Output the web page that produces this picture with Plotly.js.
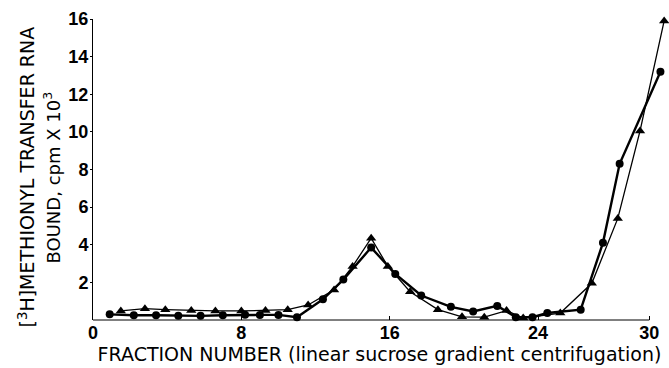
<!DOCTYPE html>
<html>
<head>
<meta charset="utf-8">
<script src="https://cdn.plot.ly/plotly-3.0.1.min.js"></script>
<style>html,body{margin:0;padding:0;background:#fff;}#chart{width:669px;height:368px;}</style>
</head>
<body>
<div id="chart"></div>
<script>
// Circles series (thick line)
const circleX = [0.9, 2.2, 3.4, 4.6, 5.8, 7.0, 8.2, 9.0, 10.0, 11.0, 12.4, 13.5, 15.0, 16.3, 17.7, 19.3, 20.5, 21.8, 22.8, 23.7, 24.5, 26.3, 27.5, 28.4, 30.6];
const circleY = [0.3, 0.25, 0.25, 0.22, 0.22, 0.25, 0.28, 0.27, 0.27, 0.15, 1.1, 2.15, 3.85, 2.45, 1.3, 0.7, 0.45, 0.75, 0.15, 0.15, 0.37, 0.55, 4.1, 8.3, 13.2];
// Triangles series (thin line)
const triX = [1.5, 2.8, 3.9, 5.3, 6.6, 8.0, 9.3, 10.5, 11.6, 13.0, 14.0, 15.0, 15.9, 17.1, 18.6, 19.9, 21.1, 22.3, 23.2, 25.2, 26.9, 28.3, 29.5, 30.8];
const triY = [0.48, 0.6, 0.55, 0.5, 0.48, 0.48, 0.5, 0.55, 0.8, 1.6, 2.85, 4.35, 2.85, 1.5, 0.55, 0.17, 0.15, 0.5, 0.1, 0.37, 1.95, 5.4, 10.05, 15.9];
// Tick labels
const xTicks = [0, 8, 16, 24, 30];
const yTicks = [2, 4, 6, 8, 10, 12, 14, 16];

const traces = [
  {x: triX, y: triY, type: 'scatter', mode: 'lines+markers', cliponaxis: false,
   line: {color: '#000', width: 1.3},
   marker: {symbol: 'triangle-up', size: 9, color: '#000'}},
  {x: circleX, y: circleY, type: 'scatter', mode: 'lines+markers', cliponaxis: false,
   line: {color: '#000', width: 2.4},
   marker: {symbol: 'circle', size: 8, color: '#000'}}
];

const layout = {
  width: 669, height: 368,
  margin: {l: 93, r: 3, t: 19, b: 48},
  paper_bgcolor: '#fff', plot_bgcolor: '#fff',
  showlegend: false,
  font: {family: 'Liberation Sans, Arial, sans-serif', color: '#000'},
  xaxis: {
    range: [0, 30.9], tickvals: xTicks, ticktext: xTicks.map(String),
    showgrid: false, zeroline: false, showline: false,
    ticks: 'inside', ticklen: 4, tickcolor: '#000',
    tickfont: {size: 18, family: 'Liberation Sans, Arial, sans-serif', weight: 'bold'},
    title: {text: 'FRACTION NUMBER (linear sucrose gradient centrifugation)',
            font: {size: 19, family: 'DejaVu Sans, sans-serif'}, standoff: 0}
  },
  yaxis: {
    range: [0, 16], tickvals: yTicks, ticktext: yTicks.map(String),
    showgrid: false, zeroline: false, showline: true, linecolor: '#000', linewidth: 1,
    ticks: 'outside', ticklen: 2, tickcolor: '#000', ticklabelstandoff: -2,
    tickfont: {size: 18, family: 'Liberation Sans, Arial, sans-serif', weight: 'bold'}
  },
  shapes: [
    {type: 'line', xref: 'x', yref: 'paper', x0: 0, x1: xTicks[xTicks.length - 1], y0: 0, y1: 0,
     line: {color: '#000', width: 1}}
  ],
  annotations: [
    {text: '[<sup>3</sup>H]METHIONYL TRANSFER RNA', xref: 'paper', yref: 'paper',
     x: 0, y: 0.5, xanchor: 'center', yanchor: 'middle', xshift: -67, yshift: -8,
     textangle: -90, showarrow: false,
     font: {size: 19, family: 'DejaVu Sans, sans-serif'}},
    {text: 'BOUND, cpm X 10<sup>3</sup>', xref: 'paper', yref: 'paper',
     x: 0, y: 0.5, xanchor: 'center', yanchor: 'middle', xshift: -41, yshift: -8,
     textangle: -90, showarrow: false,
     font: {size: 18, family: 'DejaVu Sans, sans-serif'}}
  ]
};

Plotly.newPlot('chart', traces, layout, {displayModeBar: false, staticPlot: true});
</script>
</body>
</html>
